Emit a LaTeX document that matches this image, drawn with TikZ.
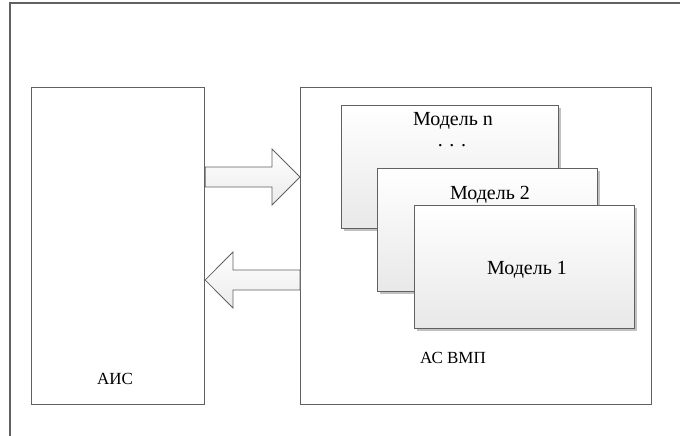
\documentclass[tikz,border=0pt]{standalone}
\usepackage{fontspec}
\setmainfont{Liberation Serif}
\usetikzlibrary{shadows}
\begin{document}
\begin{tikzpicture}[x=1pt,y=-1pt,
  line/.style={draw=black!62, line width=1.1pt},
  bigbox/.style={line, fill=white, rectangle, inner sep=0pt, anchor=north west},
  modelbox/.style={line, rectangle, inner sep=0pt, anchor=north west,
    minimum width=220pt, minimum height=123pt,
    top color=white, bottom color=black!9,
    drop shadow={shadow xshift=2pt, shadow yshift=-2pt, fill=black!40, opacity=0.6}},
  blockarrow/.style={line, line width=0.8pt, top color=white, bottom color=black!8},
  lbl/.style={font=\fontsize{17}{20}\selectfont, inner sep=0pt},
  mlbl/.style={font=\fontsize{20}{24}\selectfont, inner sep=0pt}]
\useasboundingbox (0,0) rectangle (680,436);
% outer frame
\coordinate (fbl) at (10,436);
\coordinate (ftl) at (10,3);
\coordinate (ftr) at (680,3);
\draw[line] (fbl) -- (ftl) -- (ftr);
% main boxes
\node[bigbox, minimum width=173pt, minimum height=317pt] (ais) at (31,87) {};
\node[bigbox, minimum width=351pt, minimum height=317pt] (asvmp) at (300,87) {};
% model boxes
\node[modelbox, minimum width=217pt] (mn) at (341,105) {};
\node[modelbox] (m2) at (377,168) {};
\node[modelbox] (m1) at (414,205) {};
% labels
\node[mlbl] (tn) at (453,121) {Модель n};
\node[mlbl] (tdots) at (452,146) {. . .};
\node[mlbl] (t2) at (490,195) {Модель 2};
\node[mlbl] (t1) at (527,270) {Модель 1};
\node[lbl] (tais) at (115,379) {АИС};
\node[lbl] (tasvmp) at (453,358) {АС ВМП};
% block arrows
\draw[blockarrow] (ais.east |- 0,167) -- (272,167) -- (272,149) -- (asvmp.west |- 0,177)
  -- (272,205) -- (272,187) -- (ais.east |- 0,187) -- cycle;
\draw[blockarrow] (asvmp.west |- 0,270) -- (233,270) -- (233,252) -- (ais.east |- 0,280)
  -- (233,308) -- (233,290) -- (asvmp.west |- 0,290) -- cycle;
\end{tikzpicture}
\end{document}
